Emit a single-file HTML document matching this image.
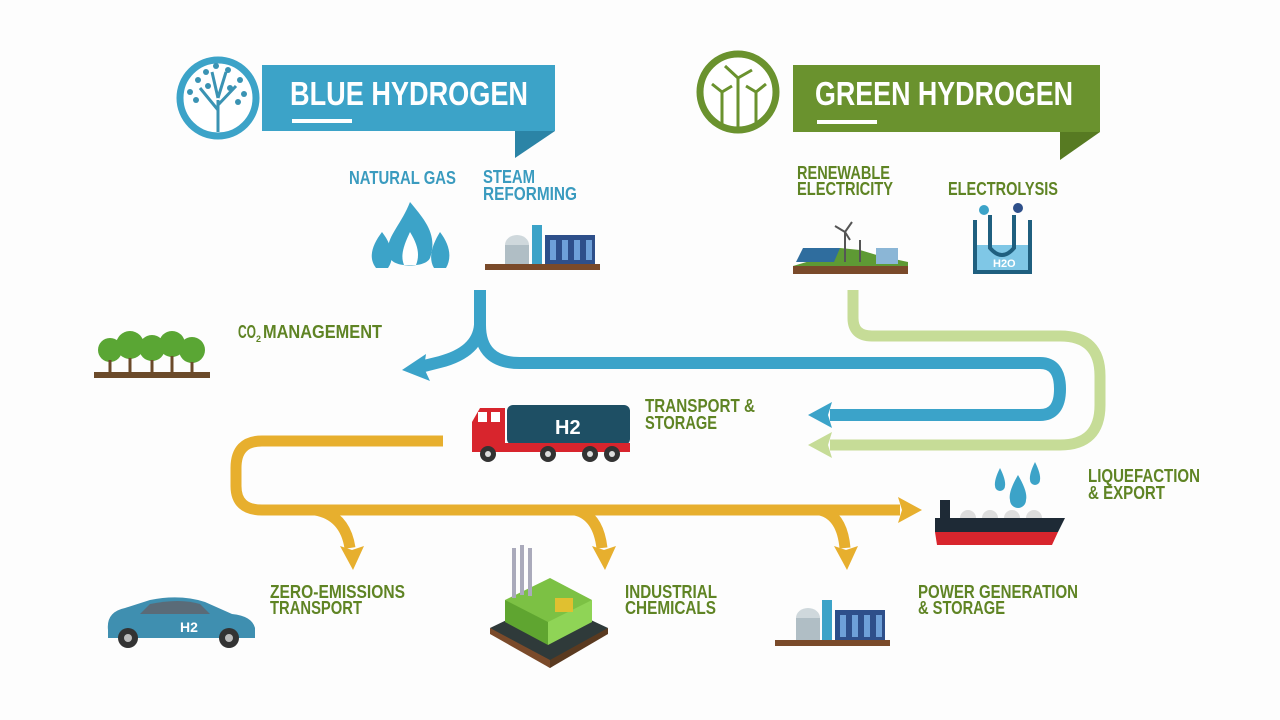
<!DOCTYPE html>
<html><head><meta charset="utf-8"><style>
html,body{margin:0;padding:0;background:#fff;}
svg{display:block;}
text{font-family:"Liberation Sans Narrow","Liberation Sans",sans-serif;font-weight:bold;}
</style></head><body>
<svg width="1280" height="720" viewBox="0 0 1280 720" xmlns="http://www.w3.org/2000/svg">
<rect width="1280" height="720" fill="#fdfdfd"/>

<!-- Blue banner -->
<rect x="262" y="65" width="293" height="66" fill="#3ca3c8"/>
<polygon points="515,131 555,131 515,158" fill="#2b84a6"/>
<circle cx="218" cy="98" r="38" fill="#fff" stroke="#3ca3c8" stroke-width="7"/>
<g stroke="#3a93b3" stroke-width="3" fill="none">
<path d="M218 132 L218 100 M218 110 L200 88 M218 105 L236 86 M218 98 L212 72 M218 98 L226 72"/>
</g>
<g fill="#3a93b3">
<circle cx="198" cy="80" r="3"/><circle cx="206" cy="72" r="3"/><circle cx="190" cy="92" r="3"/><circle cx="228" cy="70" r="3"/><circle cx="240" cy="80" r="3"/><circle cx="244" cy="94" r="3"/><circle cx="216" cy="66" r="3"/><circle cx="196" cy="100" r="3"/><circle cx="238" cy="102" r="3"/><circle cx="208" cy="86" r="3"/><circle cx="230" cy="88" r="3"/>
</g>
<text x="290" y="105" font-size="33" fill="#fff" textLength="238" lengthAdjust="spacingAndGlyphs">BLUE HYDROGEN</text>
<rect x="292" y="119" width="60" height="4" fill="#fff"/>

<!-- Green banner -->
<rect x="793" y="65" width="307" height="67" fill="#6a922e"/>
<polygon points="1060,132 1100,132 1060,160" fill="#577a22"/>
<circle cx="738" cy="92" r="38" fill="#fff" stroke="#6a922e" stroke-width="7"/>
<g stroke="#6a922e" stroke-width="3" fill="none">
<path d="M738 128 L738 78 M738 78 L725 66 M738 78 L752 70 M738 78 L738 94"/>
<path d="M722 128 L722 92 M722 92 L712 84 M722 92 L732 86"/>
<path d="M756 128 L756 92 M756 92 L746 86 M756 92 L766 84"/>
</g>
<text x="815" y="105" font-size="33" fill="#fff" textLength="258" lengthAdjust="spacingAndGlyphs">GREEN HYDROGEN</text>
<rect x="817" y="120" width="60" height="4" fill="#fff"/>

<!-- labels top -->
<g fill="#3a9bbf" font-size="18">
<text x="349" y="184" textLength="107" lengthAdjust="spacingAndGlyphs">NATURAL GAS</text>
<text x="483" y="183" textLength="52" lengthAdjust="spacingAndGlyphs">STEAM</text>
<text x="483" y="200" textLength="94" lengthAdjust="spacingAndGlyphs">REFORMING</text>
</g>
<g fill="#5f8424" font-size="18">
<text x="797" y="179" textLength="93" lengthAdjust="spacingAndGlyphs">RENEWABLE</text>
<text x="797" y="195" textLength="96" lengthAdjust="spacingAndGlyphs">ELECTRICITY</text>
<text x="948" y="195" textLength="110" lengthAdjust="spacingAndGlyphs">ELECTROLYSIS</text>
</g>

<!-- flame -->
<g fill="#3ca3c8">
<path d="M410 202 C425 220 438 235 430 258 C426 268 394 268 390 258 C382 240 400 228 410 202 Z"/>
<path d="M382 232 C392 245 395 258 388 268 L376 268 C368 258 372 245 382 232Z"/>
<path d="M440 232 C450 245 452 258 446 268 L434 268 C428 258 432 245 440 232Z"/>
</g>
<path d="M410 232 C418 245 420 255 416 265 L404 265 C400 255 404 245 410 232Z" fill="#fff"/>

<!-- steam reforming plant -->
<g>
<rect x="485" y="264" width="115" height="6" fill="#7a4a2a"/>
<ellipse cx="517" cy="245" rx="12" ry="10" fill="#cfd8dc"/>
<rect x="505" y="245" width="24" height="19" fill="#b0bec5"/>
<rect x="532" y="225" width="10" height="39" fill="#3ca3c8"/>
<rect x="545" y="235" width="50" height="29" fill="#2e4f8a"/>
<rect x="550" y="240" width="6" height="20" fill="#6ea0d8"/>
<rect x="562" y="240" width="6" height="20" fill="#6ea0d8"/>
<rect x="574" y="240" width="6" height="20" fill="#6ea0d8"/>
<rect x="586" y="240" width="6" height="20" fill="#6ea0d8"/>
</g>

<!-- renewables -->
<g>
<rect x="793" y="266" width="115" height="8" fill="#7a4a2a"/>
<path d="M793 266 L820 258 L840 248 L860 250 L880 256 L908 262 L908 266 Z" fill="#5e9a34"/>
<polygon points="796,262 803,248 840,248 834,262" fill="#2f6d9e"/>
<rect x="876" y="248" width="22" height="16" fill="#8bb6d6"/>
<g stroke="#555" stroke-width="2"><path d="M845 262 L845 232 M845 232 L835 226 M845 232 L852 222 M845 232 L850 240 M860 262 L860 240"/></g>
</g>

<!-- electrolysis -->
<g>
<path d="M975 220 L975 272 L1030 272 L1030 220" fill="none" stroke="#1f5f7f" stroke-width="4"/>
<rect x="977" y="245" width="51" height="25" fill="#7fc7e6"/>
<path d="M990 215 L990 248 Q1002 262 1014 248 L1014 215" fill="none" stroke="#1f5f7f" stroke-width="4"/>
<circle cx="984" cy="210" r="5" fill="#3ca3c8"/><circle cx="1018" cy="208" r="5" fill="#2e4f8a"/>
<text x="993" y="267" font-size="11" fill="#fff">H2O</text>
</g>

<!-- Green light pipe -->
<path d="M853 290 L853 318 Q853 336 872 336 L1060 336 Q1100 336 1100 376 L1100 405 Q1100 445 1060 445 L830 445" fill="none" stroke="#c6dc97" stroke-width="11"/>
<polygon points="808,445 832,432 828,445 832,458" fill="#c6dc97"/>

<!-- Blue pipe -->
<path d="M480 290 L480 325 Q480 363 520 363 L1040 363 Q1060 363 1060 389 Q1060 415 1040 415 L830 415" fill="none" stroke="#3ba3c9" stroke-width="12"/>
<path d="M480 325 Q478 352 440 362 L420 367" fill="none" stroke="#3ba3c9" stroke-width="12"/>
<polygon points="402,370 426,354 424,368 430,381" fill="#3ba3c9"/>
<polygon points="808,415 832,402 828,415 832,428" fill="#3ba3c9"/>

<!-- Yellow pipe -->
<path d="M443 441 L262 441 Q236 441 236 468 L236 486 Q236 510 262 510 L900 510" fill="none" stroke="#e7af2e" stroke-width="11"/>
<polygon points="922,510 898,497 902,510 898,523" fill="#e7af2e"/>
<path d="M315 510 Q345 515 350 548" fill="none" stroke="#e7af2e" stroke-width="11"/>
<polygon points="353,570 340,546 352,550 364,546" fill="#e7af2e"/>
<path d="M575 510 Q598 515 602 548" fill="none" stroke="#e7af2e" stroke-width="11"/>
<polygon points="605,570 592,546 604,550 616,546" fill="#e7af2e"/>
<path d="M820 510 Q842 515 845 548" fill="none" stroke="#e7af2e" stroke-width="11"/>
<polygon points="847,570 834,546 846,550 858,546" fill="#e7af2e"/>

<!-- CO2 -->
<text x="238" y="338" font-size="18" fill="#5f8424" textLength="18" lengthAdjust="spacingAndGlyphs">CO</text>
<text x="256" y="342" font-size="9" fill="#5f8424">2</text>
<text x="263" y="338" font-size="18" fill="#5f8424" textLength="119" lengthAdjust="spacingAndGlyphs">MANAGEMENT</text>
<rect x="94" y="372" width="116" height="6" fill="#6b4a2a"/>
<g fill="#5aa634">
<circle cx="110" cy="350" r="12"/><circle cx="130" cy="345" r="14"/><circle cx="152" cy="348" r="13"/><circle cx="172" cy="344" r="13"/><circle cx="192" cy="350" r="13"/>
</g>
<g stroke="#6b4a2a" stroke-width="3"><path d="M110 360 V372 M130 358 V372 M152 360 V372 M172 356 V372 M192 362 V372"/></g>

<!-- Truck -->
<rect x="507" y="405" width="123" height="40" rx="6" fill="#1e4f64"/>
<text x="555" y="434" font-size="20" fill="#fff">H2</text>
<path d="M472 422 L480 408 L505 408 L505 452 L472 452 Z" fill="#d8252d"/>
<rect x="478" y="412" width="9" height="10" fill="#fff"/><rect x="491" y="412" width="9" height="10" fill="#fff"/>
<rect x="505" y="443" width="125" height="9" fill="#d8252d"/>
<g fill="#333"><circle cx="488" cy="454" r="8"/><circle cx="548" cy="454" r="8"/><circle cx="590" cy="454" r="8"/><circle cx="612" cy="454" r="8"/></g>
<g fill="#ddd"><circle cx="488" cy="454" r="3"/><circle cx="548" cy="454" r="3"/><circle cx="590" cy="454" r="3"/><circle cx="612" cy="454" r="3"/></g>
<text x="645" y="412" font-size="18" fill="#5f8424" textLength="110" lengthAdjust="spacingAndGlyphs">TRANSPORT &amp;</text>
<text x="645" y="429" font-size="18" fill="#5f8424" textLength="72" lengthAdjust="spacingAndGlyphs">STORAGE</text>

<!-- drops + ship -->
<g fill="#3ca3c8">
<path d="M1018 475 Q1028 492 1026 500 A8 8 0 0 1 1010 500 Q1008 492 1018 475Z"/>
<path d="M1000 468 Q1006 480 1005 486 A5 5 0 0 1 995 486 Q994 480 1000 468Z"/>
<path d="M1035 462 Q1041 474 1040 480 A5 5 0 0 1 1030 480 Q1029 474 1035 462Z"/>
</g>
<text x="1088" y="482" font-size="18" fill="#5f8424" textLength="112" lengthAdjust="spacingAndGlyphs">LIQUEFACTION</text>
<text x="1088" y="499" font-size="18" fill="#5f8424" textLength="77" lengthAdjust="spacingAndGlyphs">&amp; EXPORT</text>
<rect x="940" y="500" width="10" height="18" fill="#1e2a36"/>
<g fill="#ddd"><circle cx="968" cy="518" r="8"/><circle cx="990" cy="518" r="8"/><circle cx="1012" cy="518" r="8"/><circle cx="1034" cy="518" r="8"/></g>
<path d="M935 518 L1065 518 L1058 532 L935 532 Z" fill="#1e2a36"/>
<path d="M935 532 L1058 532 L1052 545 L937 545 Z" fill="#d8252d"/>

<!-- bottom labels -->
<g fill="#5f8424" font-size="18">
<text x="270" y="598" textLength="135" lengthAdjust="spacingAndGlyphs">ZERO-EMISSIONS</text><text x="270" y="614" textLength="92" lengthAdjust="spacingAndGlyphs">TRANSPORT</text>
<text x="625" y="598" textLength="92" lengthAdjust="spacingAndGlyphs">INDUSTRIAL</text><text x="625" y="614" textLength="91" lengthAdjust="spacingAndGlyphs">CHEMICALS</text>
<text x="918" y="598" textLength="160" lengthAdjust="spacingAndGlyphs">POWER GENERATION</text><text x="918" y="614" textLength="87" lengthAdjust="spacingAndGlyphs">&amp; STORAGE</text>
</g>

<!-- car -->
<path d="M108 630 Q106 612 125 608 L150 600 Q180 594 205 602 L232 614 Q252 616 255 628 L255 638 L108 638 Z" fill="#3f8fb0"/>
<path d="M150 604 Q180 598 200 604 L210 614 L140 614 Z" fill="#5a6b78"/>
<text x="180" y="632" font-size="14" fill="#fff">H2</text>
<circle cx="128" cy="638" r="10" fill="#333"/><circle cx="229" cy="638" r="10" fill="#333"/>
<circle cx="128" cy="638" r="4" fill="#bbb"/><circle cx="229" cy="638" r="4" fill="#bbb"/>

<!-- factory -->
<polygon points="490,628 548,600 608,628 550,668" fill="#2f3a3a"/>
<polygon points="490,628 550,660 550,668 490,634" fill="#7a4a2a"/>
<polygon points="550,660 608,628 608,634 550,668" fill="#5a3a20"/>
<polygon points="505,600 550,578 592,600 548,630" fill="#7cc144"/>
<polygon points="505,600 548,622 548,645 505,622" fill="#5fa530"/>
<polygon points="548,622 592,600 592,622 548,645" fill="#8fd456"/>
<rect x="512" y="548" width="4" height="50" fill="#aab"/><rect x="520" y="545" width="4" height="50" fill="#aab"/><rect x="528" y="548" width="4" height="48" fill="#aab"/>
<rect x="555" y="598" width="18" height="14" fill="#e0c030"/>

<!-- power plant -->
<rect x="775" y="640" width="115" height="6" fill="#7a4a2a"/>
<ellipse cx="808" cy="618" rx="12" ry="10" fill="#cfd8dc"/>
<rect x="796" y="618" width="24" height="22" fill="#b0bec5"/>
<rect x="822" y="600" width="10" height="40" fill="#3ca3c8"/>
<rect x="835" y="610" width="50" height="30" fill="#2e4f8a"/>
<rect x="840" y="615" width="6" height="22" fill="#6ea0d8"/><rect x="852" y="615" width="6" height="22" fill="#6ea0d8"/><rect x="864" y="615" width="6" height="22" fill="#6ea0d8"/><rect x="876" y="615" width="6" height="22" fill="#6ea0d8"/>
</svg>
</body></html>
